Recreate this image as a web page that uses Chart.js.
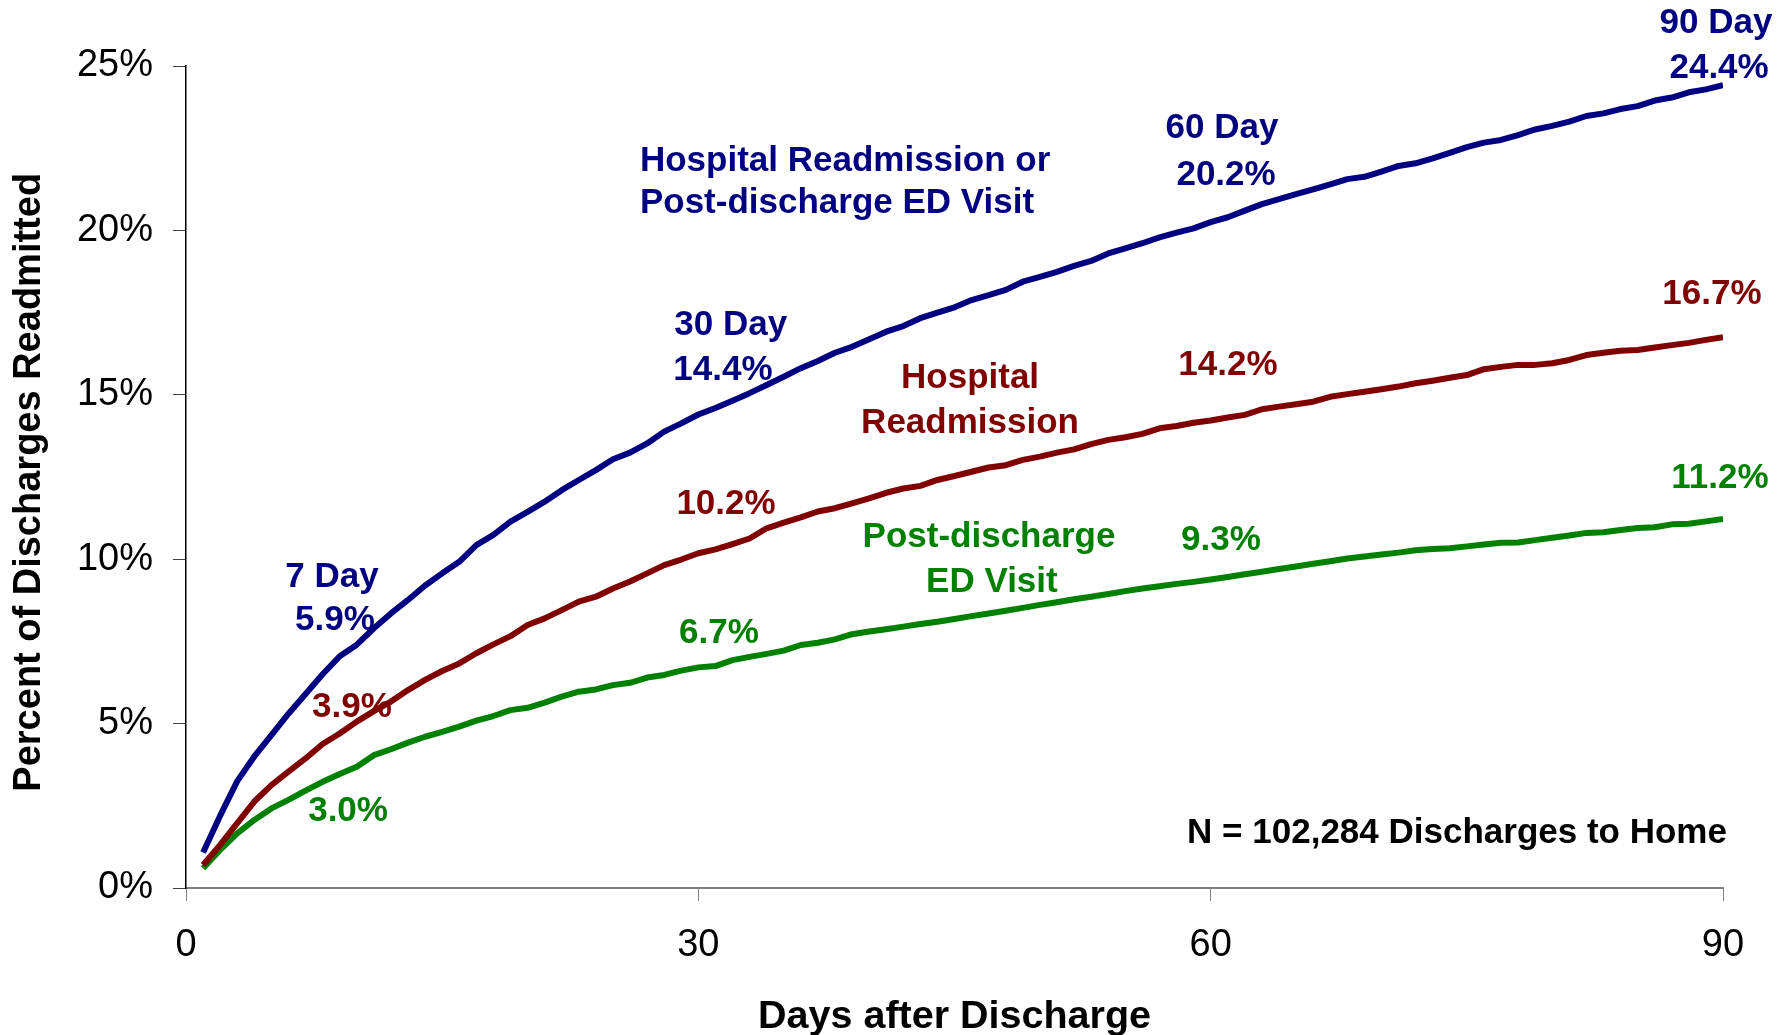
<!DOCTYPE html>
<html>
<head>
<meta charset="utf-8">
<script src="https://cdn.jsdelivr.net/npm/chart.js@4/dist/chart.umd.min.js"></script>
<style>
  body { margin: 0; background: #fff; }
  canvas { display: block; }
</style>
</head>
<body>
<canvas id="readmitChart" width="1792" height="1035"></canvas>
<script>
// days after discharge
const days = [1,2,3,4,5,6,7,8,9,10,11,12,13,14,15,16,17,18,19,20,21,22,23,24,25,26,27,28,29,30,
    31,32,33,34,35,36,37,38,39,40,41,42,43,44,45,46,47,48,49,50,51,52,53,54,55,56,57,58,59,60,
    61,62,63,64,65,66,67,68,69,70,71,72,73,74,75,76,77,78,79,80,81,82,83,84,85,86,87,88,89,90];

// Hospital Readmission or Post-discharge ED Visit (%)
const readmitOrEd = [1.08,2.2,3.25,4.0,4.65,5.3,5.9,6.5,7.05,7.4,7.9,8.35,8.76,9.2,9.57,9.92,10.43,10.74,11.14,11.44,
    11.75,12.1,12.41,12.71,13.04,13.24,13.52,13.88,14.13,14.4,14.6,14.82,15.05,15.3,15.55,15.81,16.03,16.28,16.46,16.69,
    16.92,17.09,17.33,17.5,17.66,17.88,18.03,18.19,18.44,18.59,18.74,18.92,19.07,19.3,19.45,19.61,19.79,19.93,20.06,20.25,
    20.4,20.6,20.8,20.95,21.1,21.25,21.4,21.56,21.63,21.79,21.96,22.04,22.19,22.36,22.53,22.67,22.75,22.9,23.07,23.18,
    23.31,23.48,23.56,23.69,23.78,23.95,24.04,24.2,24.29,24.42];

// Hospital Readmission (%)
const readmit = [0.7,1.31,1.97,2.63,3.13,3.54,3.94,4.38,4.7,5.06,5.38,5.67,6.02,6.33,6.6,6.83,7.14,7.41,7.66,8.0,
    8.2,8.45,8.71,8.86,9.11,9.32,9.57,9.82,9.99,10.18,10.3,10.46,10.63,10.94,11.11,11.27,11.45,11.55,11.7,11.85,
    12.02,12.15,12.23,12.41,12.53,12.66,12.79,12.86,13.02,13.12,13.24,13.34,13.5,13.63,13.71,13.81,13.98,14.05,14.15,14.22,
    14.31,14.39,14.56,14.64,14.71,14.79,14.94,15.02,15.09,15.17,15.25,15.35,15.43,15.52,15.6,15.78,15.85,15.91,15.91,15.96,
    16.06,16.21,16.28,16.34,16.36,16.44,16.51,16.58,16.67,16.75];

// Post-discharge ED Visit (%)
const edVisit = [0.6,1.16,1.66,2.07,2.42,2.68,2.96,3.23,3.47,3.69,4.04,4.22,4.42,4.6,4.75,4.91,5.09,5.23,5.41,5.48,
    5.64,5.82,5.97,6.04,6.17,6.24,6.4,6.48,6.61,6.71,6.75,6.93,7.03,7.12,7.22,7.39,7.46,7.56,7.72,7.8,
    7.87,7.95,8.03,8.1,8.18,8.27,8.35,8.43,8.52,8.61,8.69,8.78,8.86,8.94,9.03,9.11,9.18,9.25,9.31,9.38,
    9.46,9.54,9.62,9.7,9.78,9.86,9.94,10.02,10.08,10.14,10.2,10.27,10.31,10.33,10.39,10.45,10.5,10.51,10.58,10.65,
    10.72,10.8,10.82,10.89,10.95,10.97,11.06,11.08,11.15,11.22];

const NAVY = '#000080';
const MAROON = '#800000';
const GREEN = '#008000';
const FONT = '"Liberation Sans", Arial, Helvetica, sans-serif';

// text notes on the plot, placed in data units [day, percent] at the text baseline
const notes = [
    { text: '7 Day', x: 8.55, y: 9.15, color: NAVY },
    { text: '5.9%', x: 8.72, y: 7.85, color: NAVY },
    { text: '30 Day', x: 31.9, y: 16.82, color: NAVY },
    { text: '14.4%', x: 31.44, y: 15.45, color: NAVY },
    { text: 'Hospital Readmission or', x: 26.58, y: 21.81, color: NAVY, align: 'left' },
    { text: 'Post-discharge ED Visit', x: 26.58, y: 20.53, color: NAVY, align: 'left' },
    { text: '60 Day', x: 60.66, y: 22.81, color: NAVY },
    { text: '20.2%', x: 60.9, y: 21.38, color: NAVY },
    { text: '90 Day', x: 89.59, y: 26.0, color: NAVY },
    { text: '24.4%', x: 89.77, y: 24.64, color: NAVY },
    { text: '3.9%', x: 9.72, y: 5.2, color: MAROON },
    { text: '10.2%', x: 31.62, y: 11.37, color: MAROON },
    { text: 'Hospital', x: 45.91, y: 15.21, color: MAROON },
    { text: 'Readmission', x: 45.91, y: 13.84, color: MAROON },
    { text: '14.2%', x: 61.01, y: 15.6, color: MAROON },
    { text: '16.7%', x: 89.35, y: 17.76, color: MAROON },
    { text: '3.0%', x: 9.49, y: 2.04, color: GREEN },
    { text: '6.7%', x: 31.21, y: 7.45, color: GREEN },
    { text: 'Post-discharge', x: 47.02, y: 10.37, color: GREEN },
    { text: 'ED Visit', x: 47.19, y: 9.0, color: GREEN },
    { text: '9.3%', x: 60.6, y: 10.28, color: GREEN },
    { text: '11.2%', x: 89.82, y: 12.17, color: GREEN },
    { text: 'N = 102,284 Discharges to Home', x: 90.23, y: 1.37, color: '#000', align: 'right' }
];

const toPoints = vals => vals.map((v, i) => ({ x: days[i], y: v }));

const notesPlugin = {
    id: 'notes',
    afterDatasetsDraw(chart) {
        const { ctx, scales } = chart;
        ctx.save();
        ctx.font = 'bold 35px ' + FONT;
        ctx.textBaseline = 'alphabetic';
        notes.forEach(n => {
            ctx.fillStyle = n.color;
            ctx.textAlign = n.align || 'center';
            ctx.fillText(n.text, scales.x.getPixelForValue(n.x), scales.y.getPixelForValue(n.y));
        });
        ctx.restore();
    }
};

const lineStyle = color => ({
    borderColor: color,
    backgroundColor: color,
    borderWidth: 6,
    pointRadius: 0,
    tension: 0,
    borderJoinStyle: 'round',
    borderCapStyle: 'butt',
    fill: false
});

const ctx = document.getElementById('readmitChart').getContext('2d');
const myChart = new Chart(ctx, {
    type: 'line',
    data: {
        datasets: [
            { label: 'Hospital Readmission or Post-discharge ED Visit', data: toPoints(readmitOrEd), ...lineStyle(NAVY) },
            { label: 'Hospital Readmission', data: toPoints(readmit), ...lineStyle(MAROON) },
            { label: 'Post-discharge ED Visit', data: toPoints(edVisit), ...lineStyle(GREEN) }
        ]
    },
    options: {
        responsive: false,
        devicePixelRatio: 1,
        animation: false,
        layout: { padding: { top: 66, right: 69, left: 0, bottom: 0 } },
        plugins: {
            legend: { display: false },
            tooltip: { enabled: false }
        },
        scales: {
            x: {
                type: 'linear',
                min: 0,
                max: 90,
                afterFit: scale => { scale.height = 147; },
                border: { color: '#808080', width: 2 },
                grid: { drawOnChartArea: false, tickLength: 13, tickColor: '#808080', tickWidth: 1 },
                ticks: {
                    stepSize: 30,
                    padding: 26,
                    color: '#000',
                    font: { family: FONT, size: 38, lineHeight: 1 }
                },
                title: {
                    display: true,
                    text: 'Days after Discharge',
                    color: '#000',
                    padding: { top: 0, bottom: 0 },
                    font: { family: FONT, size: 39.5, weight: 'bold', lineHeight: 0.9 }
                }
            },
            y: {
                min: 0,
                max: 25,
                afterFit: scale => { scale.width = 186; },
                border: { color: '#000', width: 1.5 },
                grid: { drawOnChartArea: false, tickLength: 13, tickColor: '#404040', tickWidth: 1 },
                ticks: {
                    stepSize: 5,
                    padding: 20,
                    color: '#000',
                    font: { family: FONT, size: 38, lineHeight: 1 },
                    callback: v => v + '%'
                },
                title: {
                    display: true,
                    text: 'Percent of Discharges Readmitted ',
                    color: '#000',
                    padding: { top: 11, bottom: 0 },
                    font: { family: FONT, size: 38, weight: 'bold', lineHeight: 1 }
                }
            }
        }
    },
    plugins: [notesPlugin]
});
</script>
</body>
</html>
